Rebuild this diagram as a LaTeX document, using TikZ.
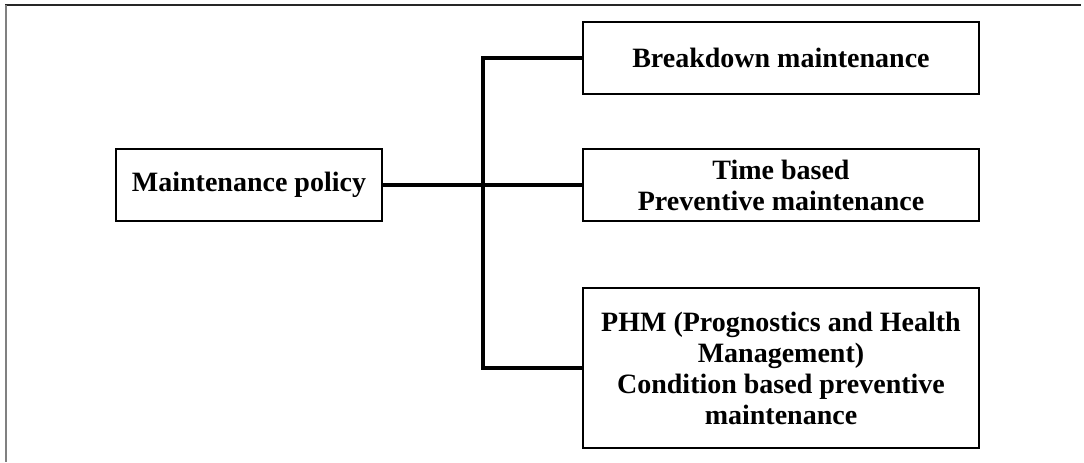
\documentclass[tikz,border=0pt]{standalone}
\usepackage{fontspec}
\setmainfont{Liberation Serif}
\usetikzlibrary{positioning}

\begin{document}
\begin{tikzpicture}[x=0.5pt, y=-0.5pt,
    every node/.style={font=\fontsize{14}{15.5}\selectfont\bfseries},
    policybox/.style={draw, line width=1pt, minimum width=133pt, minimum height=36pt, inner sep=0pt, align=center},
    kindbox/.style={draw, line width=1pt, minimum width=198pt, minimum height=36pt, inner sep=0pt, align=center},
    link/.style={line width=1.6pt}]
    \useasboundingbox (0,0) rectangle (1084,462);
    % frame round the figure
    \draw[line width=1pt, black!85] (5,5) -- (1081,5);
    \draw[line width=1.2pt, black!50] (6,5) -- (6,462);
    \node[policybox] (policy) at (249,185) {Maintenance policy};
    \node[kindbox] (brk) at (781,58) {Breakdown maintenance};
    \node[kindbox] (tbm) at (781,185) {Time based\\Preventive maintenance};
    \node[kindbox, minimum height=80pt] (phm) at (781,368) {
      PHM (Prognostics and Health\\Management)\\
      Condition based preventive\\maintenance
    };
    \coordinate (jn) at (483,185);
    \draw[link] (policy.east) -- (tbm.west);
    \draw[link] (brk.west) -| (jn) |- (phm.west);
  \end{tikzpicture}
\end{document}
